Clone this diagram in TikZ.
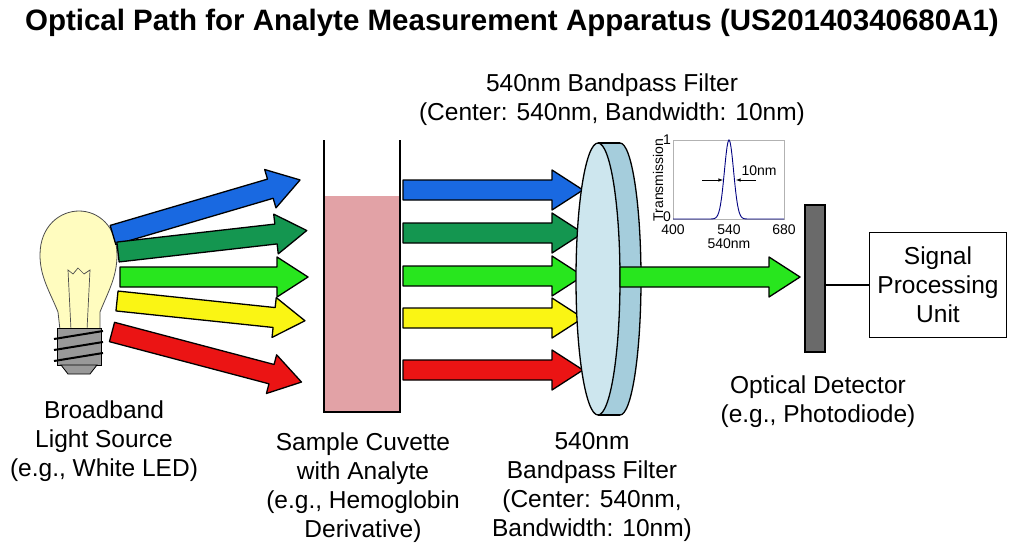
\documentclass[tikz,border=0pt]{standalone}
\usepackage{fontspec}
\setmainfont{Liberation Sans}
\begin{document}
\begin{tikzpicture}[x=1pt,y=-1pt,
  lbl/.style={align=center,font=\fontsize{24.5}{29}\selectfont},
  sm/.style={font=\fontsize{14}{15}\selectfont},
  ol/.style={draw=black,line width=1.3pt,line join=round}]
\useasboundingbox (0,0) rectangle (1024,559);
\definecolor{cblue}{RGB}{25,105,225}
\definecolor{cdg}{RGB}{20,150,80}
\definecolor{cgr}{RGB}{40,230,30}
\definecolor{cye}{RGB}{250,245,20}
\definecolor{cre}{RGB}{235,20,20}
\definecolor{pink}{RGB}{226,162,166}
\definecolor{fback}{RGB}{165,205,220}
\definecolor{ffront}{RGB}{205,230,238}
\newcommand\fatarrow[5]{%
 \begin{scope}[shift={(#2,#3)},rotate=-#4]
 \fill[#1,ol] (0,-10) -- (#5-31,-10) -- (#5-31,-20) -- (#5,0) -- (#5-31,20) -- (#5-31,10) -- (0,10) -- cycle;
 \end{scope}}
% title
\node[font=\bfseries\fontsize{29.5}{32}\selectfont] (title) at (512,23) {Optical Path for Analyte Measurement Apparatus (US20140340680A1)};
% bulb
\fill[yellow!25!white,draw=black!70,line width=0.8pt] (60,330) -- (58,312) .. controls (50,292) and (40,277) .. (40,255) .. controls (40,226) and (60,211) .. (79,211) .. controls (98,211) and (117,226) .. (117,255) .. controls (117,277) and (108,292) .. (100,312) -- (100,330) -- cycle;
\draw[black!70,line width=0.7pt] (71,330) -- (68,270) -- (73,274) -- (78,268) -- (84,274) -- (90,270) -- (87,330);
\fill[gray!80,draw=black,line width=0.8pt] (57,328) rectangle (101,365);
\fill[gray!80,draw=black,line width=0.8pt] (61,365) -- (97,365) -- (90,374) -- (68,374) -- cycle;
\foreach \y in {335,346,357} \draw[line width=2pt] (54,\y+4) -- (103,\y-4);
% arrows from bulb
\fatarrow{cblue}{113}{235}{-16.4}{195}
\fatarrow{cdg}{118}{252}{-6.5}{190}
\fatarrow{cgr}{120}{277}{0}{188}
\fatarrow{cye}{117}{301}{6}{189}
\fatarrow{cre}{112}{332}{14.8}{196}
% cuvette
\fill[pink] (324,196) rectangle (400,411);
\draw[line width=2.5pt] (324,140) -- (324,412) -- (400,412) -- (400,140);
% arrows through
\fatarrow{cblue}{403}{190}{0}{180}
\fatarrow{cdg}{403}{233}{0}{180}
\fatarrow{cgr}{403}{276}{0}{180}
\fatarrow{cye}{403}{318}{0}{180}
\fatarrow{cre}{403}{370}{0}{180}
% filter
\fill[fback,ol] (620,279) ellipse[x radius=21,y radius=136];
\fill[fback] (598,143) rectangle (620,415);
\draw[line width=1.3pt] (598,143) -- (620,143) (598,415) -- (620,415);
\fill[ffront,ol] (598,279) ellipse[x radius=22,y radius=136];
% output arrow
\fatarrow{cgr}{620}{277}{0}{180}
% detector
\fill[gray!70!black!90,draw=black,line width=1.3pt] (805,205) rectangle (825,352);
\node[draw,line width=1.3pt,minimum width=137pt,minimum height=105pt,lbl] (spu) at (938,285) {Signal\\Processing\\Unit};
\coordinate (det) at (825,285);
\draw[line width=1.5pt] (det) -- (spu.west);
% graph
\draw[gray!60,line width=0.5pt] (673,140) rectangle (784,219);
\draw[blue!50!black,line width=0.9pt,domain=673:784,samples=120] plot (\x,{219-79*exp(-((\x-729)/6.5)^2)});
\draw[-latex,line width=0.6pt] (702,180) -- (723,180);
\draw[-latex,line width=0.6pt] (756,180) -- (736,180);
\node[sm] (fw) at (759,171) {10nm};
\node[sm] at (667,140) {1};
\node[sm] at (667,217) {0};
\node[sm,rotate=90] at (658,180) {Transmission};
\node[sm] at (673,230) {400};
\node[sm] at (729,230) {540};
\node[sm] at (784,230) {680};
\node[sm] at (729,244) {540nm};
% labels
\node[lbl] (ft) at (612,100) {540nm Bandpass Filter\\(Center: 540nm, Bandwidth: 10nm)};
\node[lbl] (bl) at (104,441) {Broadband\\Light Source\\(e.g., White LED)};
\node[lbl] (cl) at (363,488) {Sample Cuvette\\with Analyte\\(e.g., Hemoglobin\\Derivative)};
\node[lbl] (fl) at (592,487) {540nm\\Bandpass Filter\\(Center: 540nm,\\Bandwidth: 10nm)};
\node[lbl] (dl) at (818,402) {Optical Detector\\(e.g., Photodiode)};
\end{tikzpicture}
\end{document}
